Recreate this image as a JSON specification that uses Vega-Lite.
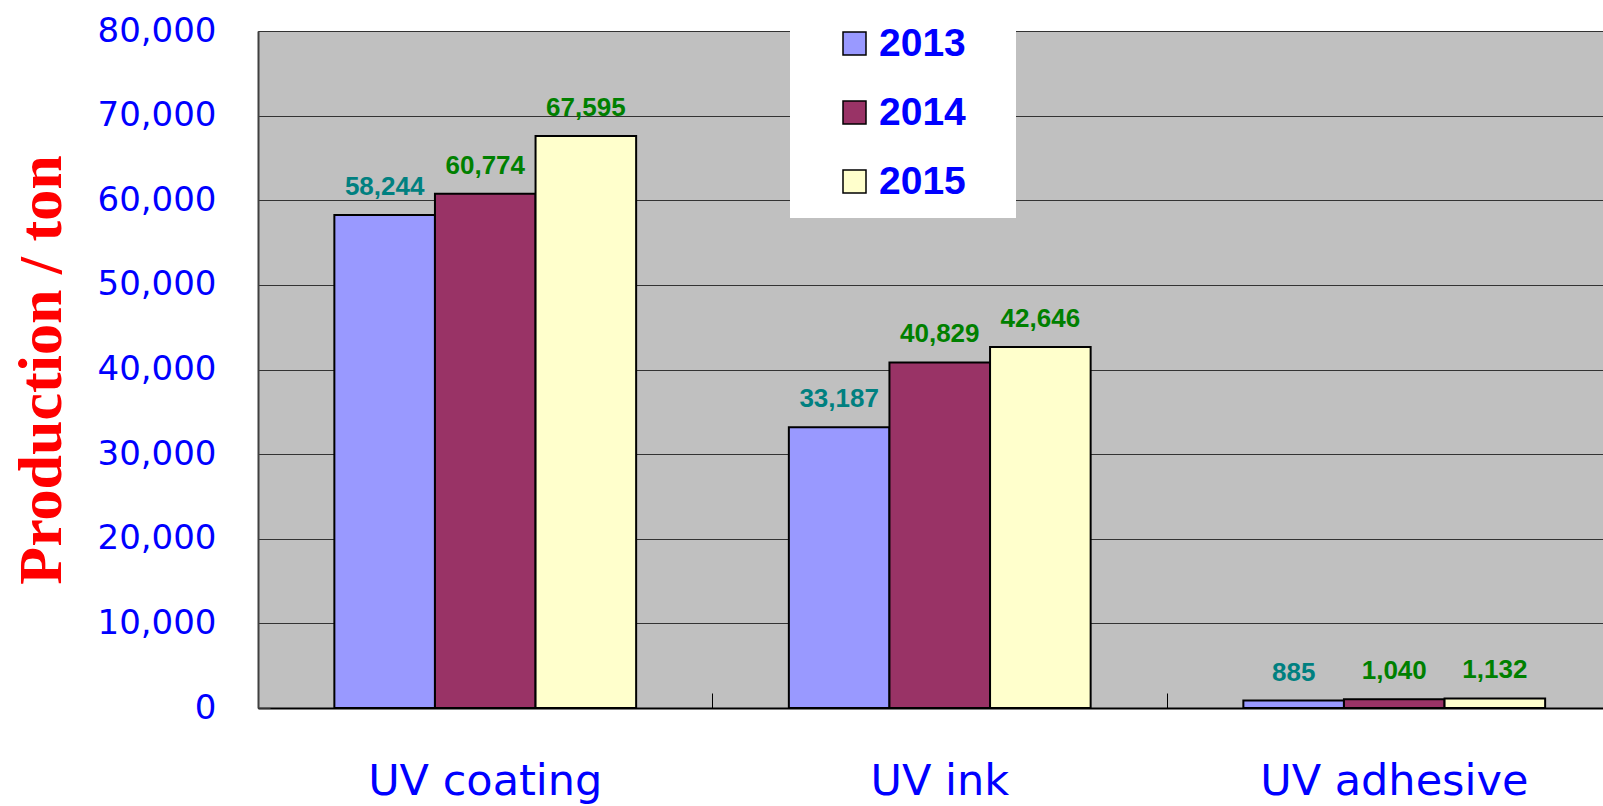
{
  "$schema": "https://vega.github.io/schema/vega-lite/v6.json",
  "width": 1345,
  "height": 677,
  "autosize": {"type": "none"},
  "padding": {"left": 258, "top": 31, "right": 0, "bottom": 98},
  "background": "white",
  "config": {"view": {"fill": "#C0C0C0", "stroke": null}},
  "data": {
    "values": [
      {"category": "UV coating", "year": "2013", "value": 58244},
      {"category": "UV coating", "year": "2014", "value": 60774},
      {"category": "UV coating", "year": "2015", "value": 67595},
      {"category": "UV ink", "year": "2013", "value": 33187},
      {"category": "UV ink", "year": "2014", "value": 40829},
      {"category": "UV ink", "year": "2015", "value": 42646},
      {"category": "UV adhesive", "year": "2013", "value": 885},
      {"category": "UV adhesive", "year": "2014", "value": 1040},
      {"category": "UV adhesive", "year": "2015", "value": 1132}
    ]
  },
  "encoding": {
    "x": {
      "field": "category",
      "type": "nominal",
      "sort": ["UV coating", "UV ink", "UV adhesive"],
      "scale": {"range": [0, 1363.5], "paddingInner": 0.336, "paddingOuter": 0.168},
      "axis": {
        "title": null,
        "labelAngle": 0,
        "bandPosition": -0.253,
        "labelFont": "DejaVu Sans",
        "labelFontSize": 43,
        "labelColor": "#0000FF",
        "labelBaseline": "alphabetic",
        "labelPadding": 101,
        "labelLimit": 500,
        "tickSize": -15,
        "tickColor": "#000000",
        "tickWidth": 1,
        "domainColor": "#000000",
        "domainWidth": 2,
        "grid": false
      }
    },
    "xOffset": {
      "field": "year",
      "type": "nominal",
      "sort": ["2013", "2014", "2015"],
      "scale": {"paddingInner": 0, "paddingOuter": 0}
    },
    "y": {
      "field": "value",
      "type": "quantitative",
      "scale": {"domain": [0, 80000], "nice": false},
      "axis": {
        "values": [0, 10000, 20000, 30000, 40000, 50000, 60000, 70000, 80000],
        "format": ",d",
        "labelFont": "DejaVu Sans",
        "labelFontSize": 34,
        "labelColor": "#0000FF",
        "labelPadding": 54,
        "tickSize": -12,
        "tickColor": "#333333",
        "domainColor": "#404040",
        "domainWidth": 2,
        "grid": true,
        "gridColor": "#333333",
        "gridWidth": 1,
        "title": "Production / ton",
        "titleFont": "Liberation Serif",
        "titleFontSize": 62,
        "titleFontWeight": "bold",
        "titleColor": "#FF0000",
        "titleAngle": -90,
        "titleX": -198,
        "titleY": 338.5,
        "titleAlign": "center",
        "titleBaseline": "alphabetic"
      }
    }
  },
  "layer": [
    {
      "mark": {"type": "bar", "stroke": "#000000", "strokeWidth": 2},
      "encoding": {
        "color": {
          "field": "year",
          "type": "nominal",
          "scale": {"domain": ["2013", "2014", "2015"], "range": ["#9999FF", "#993366", "#FFFFCC"]},
          "legend": {
            "title": "\u00a0",
            "titleOrient": "right",
            "titlePadding": 34,
            "titleFontSize": 4,
            "orient": "none",
            "legendX": 532,
            "legendY": -23,
            "fillColor": "white",
            "padding": 16,
            "symbolType": "square",
            "symbolSize": 529,
            "symbolStrokeColor": "#000000",
            "symbolStrokeWidth": 1.5,
            "symbolOffset": 29,
            "labelFont": "Liberation Sans",
            "labelFontWeight": "bold",
            "labelFontSize": 39,
            "labelColor": "#0000FF",
            "labelOffset": 5,
            "rowPadding": 29
          }
        }
      }
    },
    {
      "mark": {"type": "text", "font": "Liberation Sans", "fontWeight": "bold", "fontSize": 26, "baseline": "alphabetic", "align": "center", "dy": -20},
      "encoding": {
        "text": {"field": "value", "type": "quantitative", "format": ",d"},
        "color": {"condition": {"test": "datum.year === '2013'", "value": "#008080"}, "value": "#008000"}
      }
    }
  ]
}
